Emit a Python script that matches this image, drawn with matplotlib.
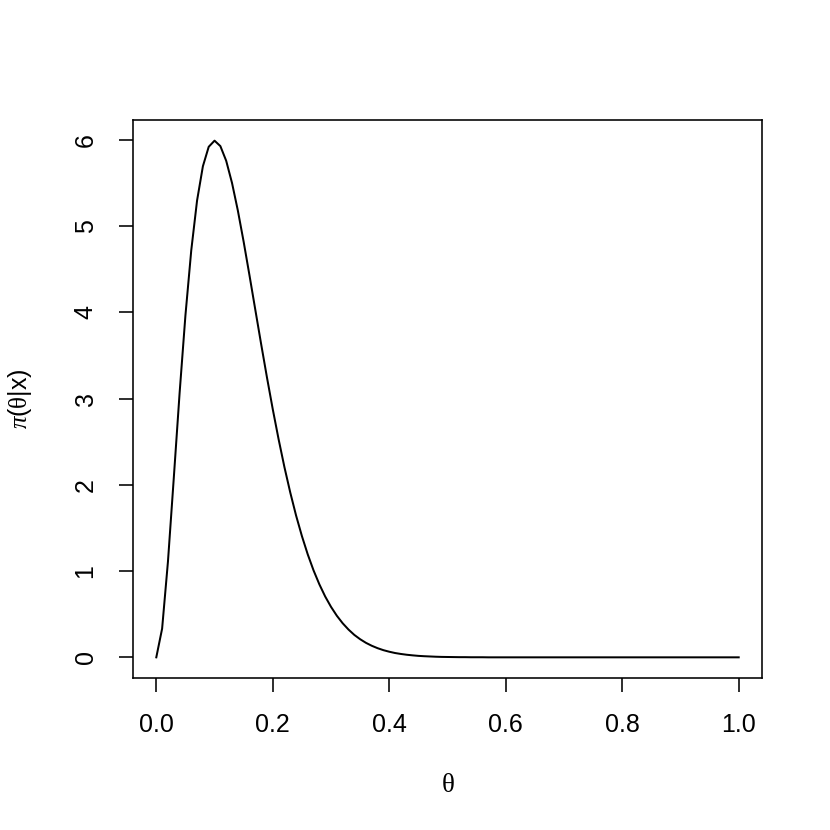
import matplotlib
matplotlib.use("Agg")
import matplotlib.pyplot as plt

theta = [i / 100 for i in range(101)]
density = [
    0.000, 0.333, 1.109, 2.076, 3.062, 3.962, 4.716, 5.295, 5.692, 5.918,
    5.989, 5.926, 5.756, 5.499, 5.180, 4.817, 4.428, 4.029, 3.632, 3.245,
    2.875, 2.528, 2.205, 1.911, 1.644, 1.406, 1.194, 1.008, 0.846, 0.705,
    0.585, 0.482, 0.395, 0.322, 0.260, 0.210, 0.168, 0.134, 0.106, 0.083,
    0.065, 0.050, 0.039, 0.030, 0.023, 0.017, 0.013, 0.010, 0.007, 0.005,
    0.004, 0.003, 0.002, 0.002, 0.001, 0.001, 0.001, 0.000, 0.000, 0.000,
    0.000, 0.000, 0.000, 0.000, 0.000, 0.000, 0.000, 0.000, 0.000, 0.000,
    0.000, 0.000, 0.000, 0.000, 0.000, 0.000, 0.000, 0.000, 0.000, 0.000,
    0.000, 0.000, 0.000, 0.000, 0.000, 0.000, 0.000, 0.000, 0.000, 0.000,
    0.000, 0.000, 0.000, 0.000, 0.000, 0.000, 0.000, 0.000, 0.000, 0.000,
    0.000,
]
xticks = [0.0, 0.2, 0.4, 0.6, 0.8, 1.0]
yticks = [0, 1, 2, 3, 4, 5, 6]

plt.rcParams["font.family"] = ["Liberation Sans", "DejaVu Sans"]
plt.rcParams["font.size"] = 12.5
plt.rcParams["mathtext.fontset"] = "custom"
plt.rcParams["mathtext.rm"] = "Liberation Serif"
plt.rcParams["mathtext.it"] = "Liberation Serif:italic"

fig = plt.figure(figsize=(830 / 144, 830 / 144), dpi=144)
ax = fig.add_axes([133 / 830, 1 - 678 / 830, (762 - 133) / 830, (678 - 120) / 830])

ax.plot(theta, density, color="black", linewidth=1.0)

# R-style 4% padding around the data range
xr = max(theta) - min(theta)
yr = max(density) - min(density)
ax.set_xlim(min(theta) - 0.04 * xr, max(theta) + 0.04 * xr)
ax.set_ylim(min(density) - 0.04 * yr, max(density) + 0.04 * yr)

ax.set_xticks(xticks)
ax.set_xticklabels([f"{t:.1f}" for t in xticks])
ax.set_yticks(yticks)
ax.set_yticklabels([str(t) for t in yticks], rotation=90, va="center")

for s in ax.spines.values():
    s.set_linewidth(0.8)
ax.tick_params(direction="out", length=7.2, width=0.8, pad=10.5)

ax.set_xlabel(r"$\mathrm{\theta}$", fontsize=13.5, labelpad=17.5)
ax.set_ylabel(r"$\pi$($\mathrm{\theta}$|x)", labelpad=20)

fig.savefig("out.png", dpi=144)
